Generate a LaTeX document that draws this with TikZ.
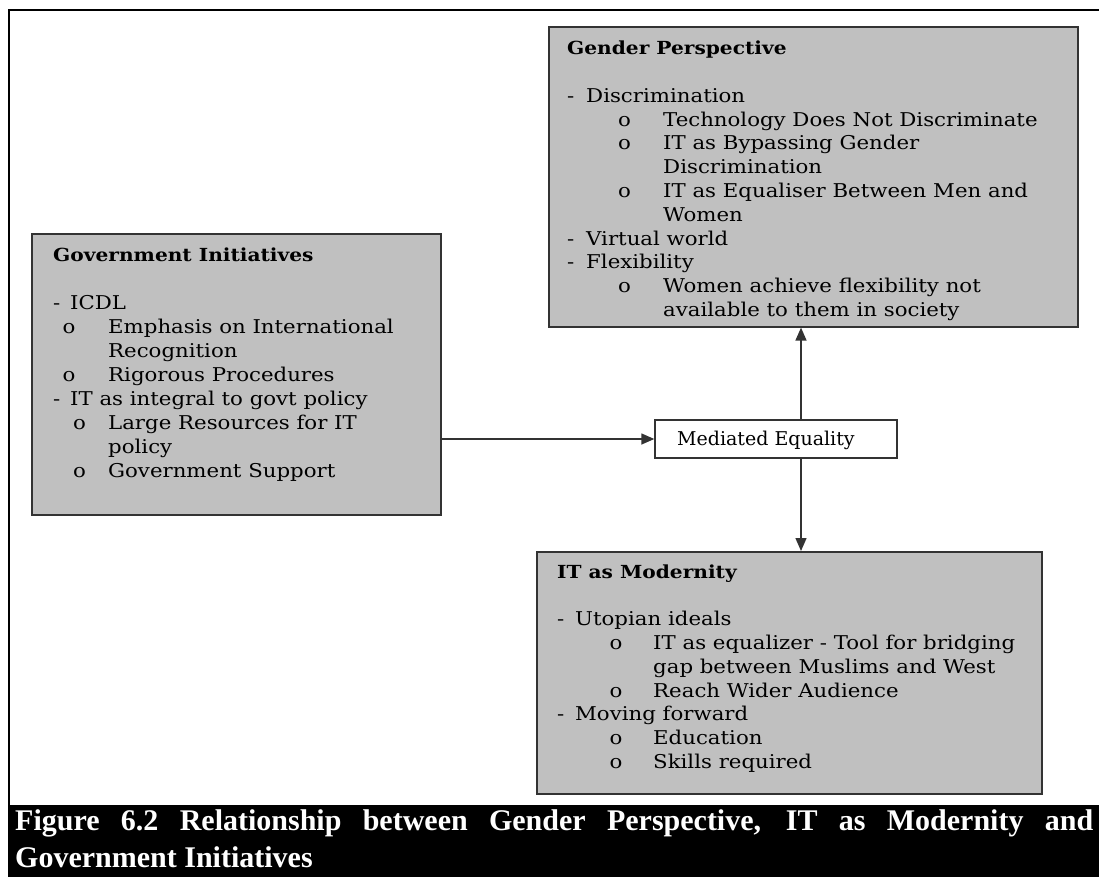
\documentclass[tikz,border=0pt]{standalone}
\usepackage{fontspec}
\usetikzlibrary{arrows.meta}
\newfontfamily\boxfont[FakeStretch=1.12]{DejaVu Serif}
\newfontfamily\plainfont{DejaVu Serif}
\newfontfamily\capfont{Liberation Serif}
\definecolor{boxgray}{HTML}{C0C0C0}
\definecolor{edge}{HTML}{333333}
% a block of lines whose first baseline is the node's base
\newcommand\boxtext[2]{\vtop{\hsize=520pt\parindent=0pt\parskip=0pt\baselineskip=#1pt\lineskip=0pt\lineskiplimit=-100pt\raggedright #2}}
% bold heading followed by one empty line
\newcommand\hd[1]{{\bfseries\fontsize{18}{23.8}\selectfont #1}\par\mbox{}\par}
% one line: marker at offset #1, text at offset #3
\newcommand\itm[4]{\makebox[0pt][l]{\hspace*{#1pt}#2}\hspace*{#3pt}#4\par}
\tikzset{
  themebox/.style={draw=edge, line width=1.6pt, fill=boxgray, anchor=north west, inner sep=0pt},
  plainbox/.style={draw=edge, line width=1.4pt, fill=white, inner sep=0pt},
  boxtxt/.style={anchor=base west, inner sep=0pt, font=\boxfont\fontsize{19}{23.8}\selectfont},
  labeltxt/.style={anchor=base west, inner sep=0pt, font=\plainfont\fontsize{19}{23.8}\selectfont},
  conn/.style={draw=edge, line width=1.4pt, -{Triangle[length=13pt, width=11pt]}},
  captxt/.style={anchor=base west, inner sep=0pt, text=white, font=\capfont\bfseries\fontsize{30}{38}\selectfont},
  frameline/.style={line width=2.6pt, black}
}
\begin{document}
\begin{tikzpicture}[x=1pt, y=-1pt]
\useasboundingbox (0,0) rectangle (1099,877);
\fill[white] (0,0) rectangle (1099,877);

% outer frame and caption band
\draw[frameline] (9,805) -- (9,10) -- (1099,10);
\fill[black] (8,805) rectangle (1099,877);

% theme boxes
\node[themebox, minimum width=529pt, minimum height=300pt] (gp) at (548,26) {};
\node[themebox, minimum width=409pt, minimum height=281pt] (gi) at (31,233) {};
\node[themebox, minimum width=505pt, minimum height=242pt] (im) at (536,551) {};
\node[plainbox, minimum width=242pt, minimum height=38pt] (me) at (776,439) {};
\node[labeltxt] (metxt) at (677,445) {Mediated Equality};

\node[boxtxt] (gptxt) at (567,54.7) {\boxtext{23.8}{%
\hd{Gender Perspective}
\itm{0}{-}{19}{Discrimination}
\itm{51}{o}{96}{Technology Does Not Discriminate}
\itm{51}{o}{96}{IT as Bypassing Gender}
\itm{0}{}{96}{Discrimination}
\itm{51}{o}{96}{IT as Equaliser Between Men and}
\itm{0}{}{96}{Women}
\itm{0}{-}{19}{Virtual world}
\itm{0}{-}{19}{Flexibility}
\itm{51}{o}{96}{Women achieve flexibility not}
\itm{0}{}{96}{available to them in society}}};

\node[boxtxt] (gitxt) at (53,261) {\boxtext{24}{%
\hd{Government Initiatives}
\itm{0}{-}{17}{ICDL}
\itm{9.5}{o}{55}{Emphasis on International}
\itm{0}{}{55}{Recognition}
\itm{9.5}{o}{55}{Rigorous Procedures}
\itm{0}{-}{17}{IT as integral to govt policy}
\itm{20}{o}{55}{Large Resources for IT}
\itm{0}{}{55}{policy}
\itm{20}{o}{55}{Government Support}}};

\node[boxtxt] (imtxt) at (557,578) {\boxtext{23.8}{%
\hd{IT as Modernity}
\itm{0}{-}{18}{Utopian ideals}
\itm{52.5}{o}{96}{IT as equalizer - Tool for bridging}
\itm{0}{}{96}{gap between Muslims and West}
\itm{52.5}{o}{96}{Reach Wider Audience}
\itm{0}{-}{18}{Moving forward}
\itm{52.5}{o}{96}{Education}
\itm{52.5}{o}{96}{Skills required}}};

% connectors
\coordinate (axis) at (801,0);
\draw[conn] (gi.east |- me.west) -- (me.west);
\draw[conn] (me.north -| axis) -- (gp.south -| axis);
\draw[conn] (me.south -| axis) -- (im.north -| axis);

% caption
\node[captxt] (cap1) at (15,830) {\makebox[1078pt][s]{Figure 6.2 Relationship between Gender Perspective, IT as Modernity and}};
\node[captxt] (cap2) at (15,867) {Government Initiatives};
\end{tikzpicture}
\end{document}
